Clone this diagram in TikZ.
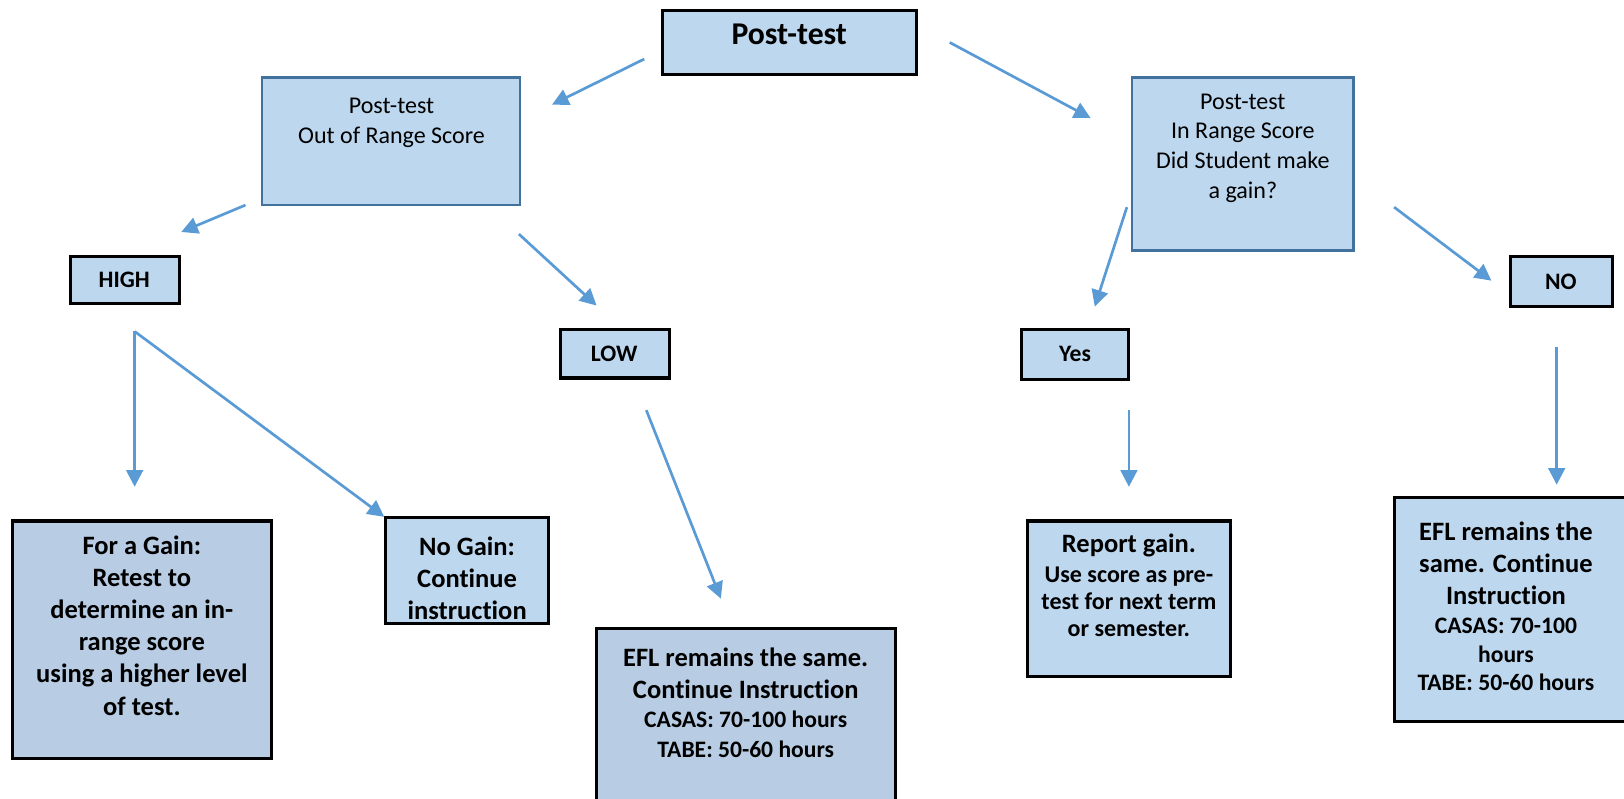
\documentclass[tikz,border=0pt]{standalone}
\usepackage{fontspec}
\setmainfont{Carlito}[Ligatures={NoCommon,TeX}]
\usetikzlibrary{arrows.meta}
\definecolor{boxfill}{HTML}{BDD7EE}
\definecolor{boxfillB}{HTML}{B8CCE4}
\definecolor{arrowblue}{HTML}{5B9BD5}
\definecolor{edgeblue}{HTML}{41719C}
\begin{document}
\begin{tikzpicture}[x=0.5pt,y=-0.5pt,
  box/.style={draw=black,line width=1.5pt,fill=boxfill,anchor=north west,inner sep=0pt,outer sep=0pt},
  bluebox/.style={box,draw=edgeblue,line width=1.2pt},
  darkbox/.style={box,fill=boxfillB},
  arr/.style={draw=arrowblue,line width=1.3pt,-{Triangle[length=8pt,width=8pt]}},
  txt/.style={align=center,inner sep=0pt,text=black},
  big/.style={font=\fontsize{15.3}{17}\selectfont\bfseries},
  reg/.style={font=\fontsize{11.6}{14.4}\selectfont},
  bl/.style={font=\fontsize{12.8}{15.5}\selectfont\bfseries},
  sm/.style={font=\fontsize{11.4}{13.75}\selectfont\bfseries},
  smb/.style={font=\fontsize{11.4}{14.5}\selectfont\bfseries},
  smr/.style={font=\fontsize{11.6}{13}\selectfont\bfseries}
]
\useasboundingbox (0,0) rectangle (1568,771);

% boxes
\node[box,minimum width=122.5pt,minimum height=31pt] (top) at (640,10) {};
\node[txt,big] (topT) at (762,33) {Post-test};

\node[bluebox,minimum width=124.5pt,minimum height=61.5pt] (outr) at (253,75) {};
\node[txt,reg] (outrT) at (378,119) {Post-test\\Out of Range Score};

\node[bluebox,minimum width=107pt,minimum height=83.5pt] (inr) at (1093,75) {};
\node[txt,reg] (inrT) at (1200,143) {Post-test\\In Range Score\\Did Student make\\a gain?};

\node[box,minimum width=52.5pt,minimum height=22.5pt] (high) at (68,248) {};
\node[txt,sm] (highT) at (120,270) {HIGH};

\node[box,minimum width=52.5pt,minimum height=23.5pt] (low) at (541,318) {};
\node[txt,sm] (lowT) at (593,342) {LOW};

\node[box,minimum width=52pt,minimum height=24pt] (yes) at (986,318) {};
\node[txt,sm] (yesT) at (1038,342) {Yes};

\node[box,minimum width=49.5pt,minimum height=24pt] (no) at (1458,248) {};
\node[txt,sm] (noT) at (1507,272) {NO};

\node[darkbox,minimum width=125pt,minimum height=114.5pt] (gain) at (12,503) {};
\node[txt,bl] (gainT) at (137,604) {For a Gain:\\Retest to\\determine an in-\\range score\\using a higher level\\of test.};

\node[box,minimum width=79pt,minimum height=51pt] (nogain) at (372,500) {};
\node[txt,bl] (nogainT) at (451,558) {No Gain:\\Continue\\instruction};

\node[darkbox,minimum width=144.5pt,minimum height=100pt] (efllow) at (576,607) {};
\node[txt,bl] (efllowA) at (720,650) {EFL remains the same.\\Continue Instruction};
\node[txt,smb] (efllowB) at (720,709) {CASAS: 70-100 hours\\TABE: 50-60 hours};

\node[box,minimum width=98pt,minimum height=75pt] (report) at (992,503) {};
\node[txt,bl] (reportA) at (1090,527) {Report gain.};
\node[txt,smr] (reportB) at (1090,581) {Use score as pre-\\test for next term\\or semester.};

\node[box,minimum width=115pt,minimum height=108.5pt] (eflr) at (1346,480) {};
\node[txt,bl] (eflrA) at (1454,544) {EFL remains the\\same. Continue\\Instruction};
\node[txt,sm] (eflrB) at (1454,632) {CASAS: 70-100\\hours\\TABE: 50-60 hours};

% arrow end points
\coordinate (a1s) at (622,57);   \coordinate (a1e) at (533,101);
\coordinate (a2s) at (917,41);   \coordinate (a2e) at (1053,114);
\coordinate (a3s) at (237,198);  \coordinate (a3e) at (175,224);
\coordinate (a4s) at (501,226);  \coordinate (a4e) at (576,295);
\coordinate (a5s) at (1088,200); \coordinate (a5e) at (1057,296);
\coordinate (a6s) at (1346,200); \coordinate (a6e) at (1440,271);
\coordinate (a7s) at (130,320);  \coordinate (a7e) at (130,470);
\coordinate (a8e) at (371,499);
\coordinate (a9s) at (624,396);  \coordinate (a9e) at (696,578);
\coordinate (a10s) at (1090,396); \coordinate (a10e) at (1090,470);
\coordinate (a11s) at (1503,335); \coordinate (a11e) at (1503,468);

\draw[arr] (a1s) -- (a1e);
\draw[arr] (a2s) -- (a2e);
\draw[arr] (a3s) -- (a3e);
\draw[arr] (a4s) -- (a4e);
\draw[arr] (a5s) -- (a5e);
\draw[arr] (a6s) -- (a6e);
\draw[arr] (a7s) -- (a7e);
\draw[arr] (a7s) -- (a8e);
\draw[arr] (a9s) -- (a9e);
\draw[arr] (a10s) -- (a10e);
\draw[arr] (a11s) -- (a11e);
\end{tikzpicture}
\end{document}
